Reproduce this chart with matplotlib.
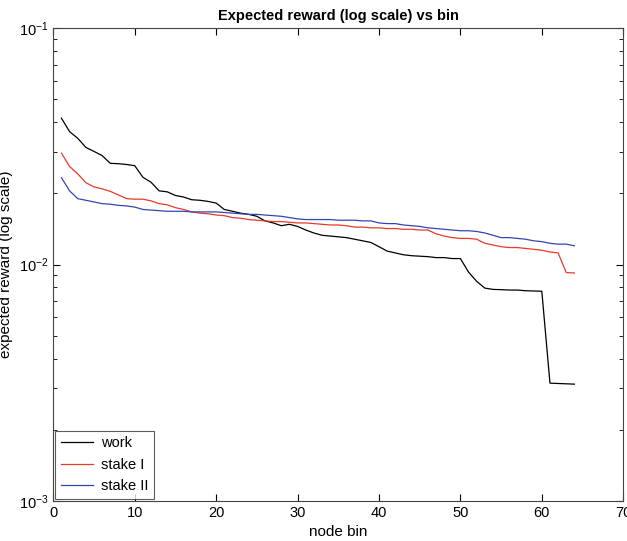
import matplotlib
matplotlib.use("Agg")
import matplotlib.pyplot as plt
import numpy as np

plt.rcParams['font.family'] = ['Liberation Sans', 'DejaVu Sans']

bins = list(range(1, 65))

work = [0.0416, 0.0365, 0.0342, 0.0313, 0.0301, 0.0289, 0.0268, 0.0267, 0.0265, 0.0262,
        0.0234, 0.0223, 0.0205, 0.0203, 0.0196, 0.0193, 0.0188, 0.0187, 0.0185, 0.0182,
        0.0171, 0.0168, 0.0165, 0.0163, 0.0160, 0.0153, 0.0150, 0.0146, 0.0148, 0.0145,
        0.0140, 0.0136, 0.0133, 0.0132, 0.0131, 0.0130, 0.0128, 0.0126, 0.0124, 0.0119,
        0.0114, 0.0112, 0.0110, 0.0109, 0.01085, 0.0108, 0.0107, 0.0107, 0.0106, 0.0106,
        0.00929, 0.00849, 0.00795, 0.00785, 0.00783, 0.0078, 0.0078, 0.00775, 0.00773, 0.00771,
        0.00315, 0.00314, 0.00313, 0.00312]

stake1 = [0.0296, 0.0260, 0.0242, 0.0222, 0.0213, 0.0209, 0.0204, 0.0197, 0.0190, 0.0189,
          0.0189, 0.0186, 0.0181, 0.0179, 0.0174, 0.0171, 0.0167, 0.0165, 0.0164, 0.0162,
          0.0161, 0.0158, 0.0157, 0.0155, 0.0154, 0.0153, 0.0152, 0.0152, 0.0151, 0.0150,
          0.0150, 0.0149, 0.0148, 0.0147, 0.0147, 0.0146, 0.0144, 0.0144, 0.0143, 0.0143,
          0.0142, 0.0142, 0.0141, 0.0141, 0.0140, 0.0140, 0.0135, 0.0132, 0.0130, 0.0129,
          0.0129, 0.0128, 0.0123, 0.0121, 0.0119, 0.0118, 0.0118, 0.0117, 0.0116, 0.0115,
          0.0113, 0.0112, 0.00925, 0.00921]

stake2 = [0.0233, 0.0205, 0.0190, 0.0187, 0.0184, 0.0181, 0.0180, 0.0178, 0.0177, 0.0175,
          0.0171, 0.0170, 0.0169, 0.0168, 0.0168, 0.0168, 0.0167, 0.0167, 0.0167, 0.0167,
          0.0166, 0.0165, 0.0164, 0.0163, 0.0163, 0.0162, 0.0161, 0.0160, 0.0158, 0.0156,
          0.0155, 0.0155, 0.0155, 0.0155, 0.0154, 0.0154, 0.0154, 0.0153, 0.0153, 0.0150,
          0.0149, 0.0149, 0.0147, 0.0146, 0.0145, 0.0143, 0.0142, 0.0141, 0.0140, 0.0139,
          0.0139, 0.0138, 0.0136, 0.0133, 0.0130, 0.0130, 0.0129, 0.0128, 0.0126, 0.0125,
          0.0123, 0.0122, 0.0122, 0.0120]

fig = plt.figure(figsize=(6.27, 5.41), dpi=100)
ax = fig.add_axes([0.085, 0.074, 0.909, 0.874])

ax.plot(bins, work, color='k', lw=0.9, label='work')
ax.plot(bins, stake1, color='#e8392b', lw=0.9, label='stake I')
ax.plot(bins, stake2, color='#3346b0', lw=0.9, label='stake II')

ax.set_yscale('log')
ax.set_xlim(0, 70)
ax.set_ylim(1e-3, 1e-1)
ax.set_xticks(range(0, 71, 10))
ax.set_yticks([1e-3, 1e-2, 1e-1])
ax.tick_params(which='both', direction='in', top=True, right=True, labelsize=10.5)
ax.tick_params(which='major', length=5)
ax.tick_params(which='minor', length=3)
for s in ax.spines.values():
    s.set_color('#444444')

ax.set_title('Expected reward (log scale) vs bin', fontsize=10.5, fontweight='bold')
ax.set_xlabel('node bin', fontsize=11)
ax.set_ylabel('expected reward (log scale)', fontsize=11)

leg = ax.legend(loc='lower left', fontsize=10.5, fancybox=False, edgecolor='#333333',
                borderaxespad=0.15, handlelength=2.2, handletextpad=0.5, borderpad=0.4)
leg.get_frame().set_linewidth(0.8)

fig.savefig('out.png', dpi=100)
